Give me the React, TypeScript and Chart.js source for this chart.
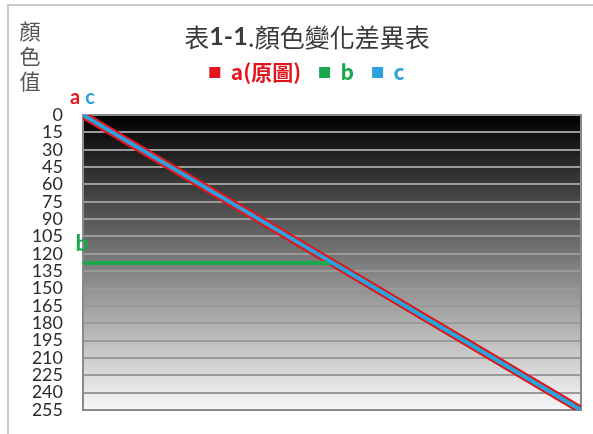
import { useEffect, useRef } from "react";
import { Chart, registerables } from "chart.js";

Chart.register(...registerables);

// Series: original colour value (a), clamped copy (b) and processed copy (c)
const seriesNames = ["a(原圖)", "b", "c"];
const seriesColors = ["#e3141b", "#19a84b", "#2ea0de"];
const seriesWidths = [8, 4, 4];

const aPoints = [
  { x: 0, y: 0 },
  { x: 255, y: 255 },
];
const bPoints = [
  { x: 0, y: 128 },
  { x: 128, y: 128 },
  { x: 255, y: 255 },
];
const cPoints = [
  { x: 0, y: 0 },
  { x: 255, y: 255 },
];

const yTickValues = [0, 15, 30, 45, 60, 75, 90, 105, 120, 135, 150, 165, 180, 195, 210, 225, 240, 255];

const titleParts = [
  { text: "表", bold: false },
  { text: "1-1", bold: true },
  { text: ".顏色變化差異表", bold: false },
];
const axisTitleChars = ["顏", "色", "值"];

const CJK = '"Noto Sans CJK TC", "Noto Sans CJK SC", sans-serif';
const LATIN = 'Lato, "Open Sans", sans-serif';

const decorPlugin = {
  id: "decor",
  beforeUpdate(chart: any) {
    const legend = chart.legend;
    if (legend && !legend.__padded) {
      const fit = legend.fit.bind(legend);
      legend.fit = function () {
        fit();
        this.height += 22;
      };
      legend.__padded = true;
    }
  },
  beforeDraw(chart: any) {
    const { ctx, chartArea, width, height } = chart;
    ctx.save();
    ctx.fillStyle = "#ffffff";
    ctx.fillRect(0, 0, width, height);
    // outer frame (top and left edges)
    ctx.strokeStyle = "#c9c9c9";
    ctx.lineWidth = 2;
    ctx.beginPath();
    ctx.moveTo(8, height + 2);
    ctx.lineTo(8, 5);
    ctx.lineTo(width + 2, 5);
    ctx.stroke();
    // plot background: black to white
    const g = ctx.createLinearGradient(0, chartArea.top, 0, chartArea.bottom);
    g.addColorStop(0, "#000000");
    g.addColorStop(1, "#f8f8f8");
    ctx.fillStyle = g;
    ctx.fillRect(chartArea.left, chartArea.top, chartArea.right - chartArea.left, chartArea.bottom - chartArea.top);
    ctx.restore();
  },
  beforeDatasetsDraw(chart: any) {
    const { ctx, chartArea } = chart;
    ctx.save();
    ctx.strokeStyle = "#8a8a8a";
    ctx.lineWidth = 2;
    ctx.strokeRect(chartArea.left, chartArea.top, chartArea.right - chartArea.left, chartArea.bottom - chartArea.top);
    ctx.restore();
  },
  afterDraw(chart: any) {
    const { ctx, scales } = chart;
    const xs = scales.x;
    const ys = scales.y;
    ctx.save();

    // title with bold numbering
    const fontFor = (bold: boolean) =>
      bold ? `bold 25px ${LATIN}` : `400 25px ${CJK}`;
    let total = 0;
    const widths = titleParts.map((p) => {
      ctx.font = fontFor(p.bold);
      const w = ctx.measureText(p.text).width;
      total += w;
      return w;
    });
    let x = 307 - total / 2;
    ctx.textBaseline = "middle";
    ctx.textAlign = "left";
    ctx.fillStyle = "#3a3a3a";
    titleParts.forEach((p, i) => {
      ctx.font = fontFor(p.bold);
      ctx.fillText(p.text, x, 37);
      x += widths[i];
    });

    // vertical axis title
    ctx.font = `400 21px ${CJK}`;
    ctx.fillStyle = "#555555";
    ctx.textAlign = "center";
    axisTitleChars.forEach((c, i) => {
      ctx.fillText(c, 30, 31 + i * 25);
    });

    // series labels next to their lines
    const x0 = xs.getPixelForValue(aPoints[0].x);
    const yA = ys.getPixelForValue(aPoints[0].y);
    const yB = ys.getPixelForValue(bPoints[0].y);
    ctx.font = `bold 20px ${LATIN}`;
    ctx.textAlign = "center";
    ctx.fillStyle = seriesColors[0];
    ctx.fillText("a", x0 - 8, yA - 17);
    ctx.fillStyle = seriesColors[2];
    ctx.fillText("c", x0 + 7, yA - 17);
    ctx.font = `bold 23px ${LATIN}`;
    ctx.fillStyle = seriesColors[1];
    ctx.fillText("b", x0 - 1, yB - 20);
    ctx.restore();
  },
};

export default function App() {
  const canvasRef = useRef<HTMLCanvasElement | null>(null);

  useEffect(() => {
    const canvas = canvasRef.current;
    if (!canvas) return;
    const pointSets = [aPoints, bPoints, cPoints];
    const chart = new Chart(canvas, {
      type: "line",
      data: {
        datasets: seriesNames.map((name, i) => ({
          label: name,
          data: pointSets[i],
          borderColor: seriesColors[i],
          backgroundColor: seriesColors[i],
          borderWidth: seriesWidths[i],
          pointRadius: 0,
          tension: 0,
          fill: false,
          order: 3 - i,
        })),
      },
      options: {
        animation: false,
        responsive: false,
        maintainAspectRatio: false,
        events: [],
        layout: { padding: { top: 44, left: 33, right: 12, bottom: 24 } },
        plugins: {
          title: { display: false },
          tooltip: { enabled: false },
          legend: {
            display: true,
            position: "top",
            labels: {
              boxWidth: 11,
              boxHeight: 11,
              padding: 18,
              font: { family: CJK, size: 21, weight: "bold" },
              generateLabels: (c: any) =>
                c.data.datasets.map((ds: any, i: number) => ({
                  text: ds.label,
                  fillStyle: seriesColors[i],
                  strokeStyle: seriesColors[i],
                  lineWidth: 0,
                  fontColor: seriesColors[i],
                  hidden: false,
                  datasetIndex: i,
                })),
            },
          },
        },
        scales: {
          x: {
            type: "linear",
            min: 0,
            max: 255,
            display: false,
          },
          y: {
            type: "linear",
            min: 0,
            max: 255,
            reverse: true,
            afterBuildTicks: (axis: any) => {
              axis.ticks = yTickValues.map((v) => ({ value: v }));
            },
            afterFit: (axis: any) => {
              axis.width = 50;
              axis.paddingTop = 0;
              axis.paddingBottom = 0;
            },
            border: { display: false },
            grid: { color: "#9a9a9a", lineWidth: 2, drawTicks: false },
            ticks: {
              padding: 20,
              color: "#2b2b2b",
              font: { family: LATIN, size: 18 },
              autoSkip: false,
            },
          },
        },
      },
      plugins: [decorPlugin],
    });
    return () => chart.destroy();
  }, []);

  return (
    <div style={{ position: "fixed", left: 0, top: 0, width: 593, height: 434, background: "#fff" }}>
      <canvas ref={canvasRef} width={593} height={434} style={{ display: "block", width: 593, height: 434 }} />
    </div>
  );
}
